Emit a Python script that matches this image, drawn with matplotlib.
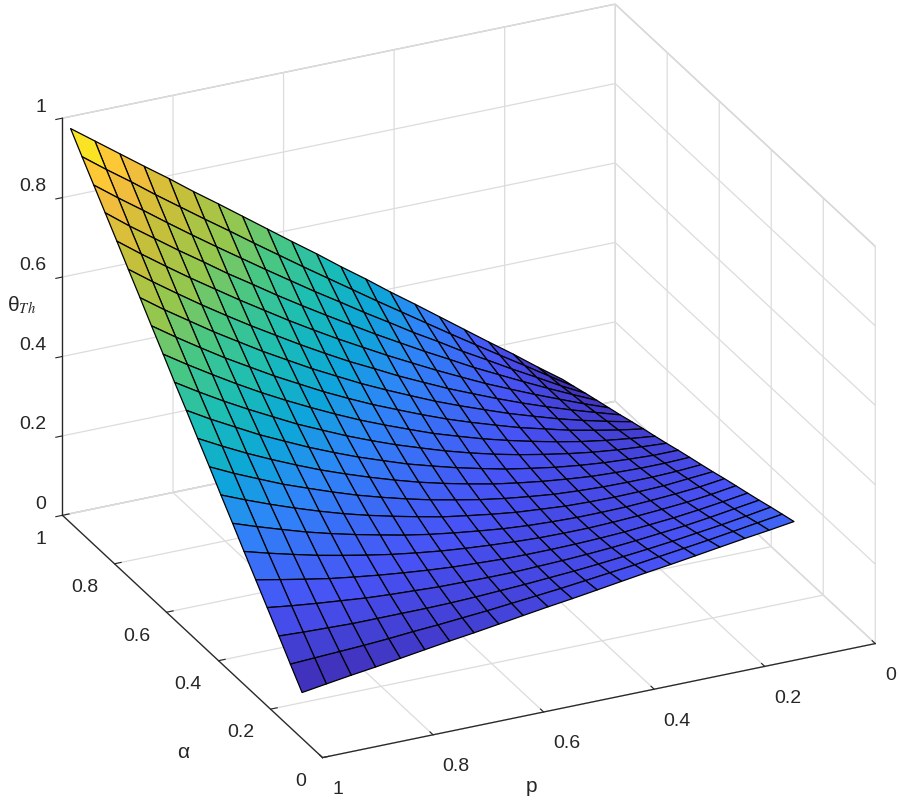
import numpy as np
import matplotlib
matplotlib.use('Agg')
import matplotlib.pyplot as plt
from matplotlib.colors import LinearSegmentedColormap

plt.rcParams['font.family'] = ['Liberation Sans', 'DejaVu Sans']
plt.rcParams['mathtext.fontset'] = 'stix'

p_values = [0.990, 0.946, 0.901, 0.857, 0.812, 0.768, 0.723, 0.679, 0.634, 0.590, 0.545,
            0.501, 0.456, 0.412, 0.367, 0.323, 0.278, 0.234, 0.189, 0.145, 0.100]
alpha_values = [0.100, 0.145, 0.189, 0.234, 0.278, 0.323, 0.367, 0.412, 0.456, 0.501, 0.545,
                0.590, 0.634, 0.679, 0.723, 0.768, 0.812, 0.857, 0.901, 0.946, 0.990]
# theta_Th, one row per alpha value
theta_th = [
    [.100, .109, .118, .126, .135, .144, .153, .161, .170, .179, .188, .196, .205, .214, .223, .231, .240, .249, .258, .266, .275],
    [.144, .147, .150, .153, .157, .162, .166, .171, .176, .182, .188, .194, .201, .208, .215, .223, .231, .239, .248, .257, .266],
    [.188, .185, .183, .181, .181, .181, .181, .182, .184, .187, .190, .194, .198, .203, .209, .215, .222, .230, .238, .247, .257],
    [.232, .224, .217, .211, .205, .201, .198, .195, .194, .193, .193, .195, .197, .200, .204, .209, .215, .221, .229, .238, .247],
    [.275, .263, .251, .240, .231, .223, .216, .210, .205, .202, .199, .198, .198, .199, .201, .204, .209, .214, .221, .229, .238],
    [.319, .302, .286, .271, .258, .246, .235, .226, .218, .212, .207, .203, .200, .199, .199, .201, .204, .208, .213, .220, .229],
    [.363, .342, .322, .303, .286, .271, .257, .244, .233, .224, .216, .209, .204, .201, .199, .199, .200, .203, .207, .212, .220],
    [.407, .382, .358, .336, .315, .296, .279, .264, .250, .237, .227, .218, .210, .205, .200, .198, .197, .198, .200, .205, .210],
    [.451, .422, .395, .369, .346, .324, .303, .285, .268, .253, .240, .228, .218, .210, .203, .199, .196, .195, .195, .197, .201],
    [.495, .463, .432, .404, .377, .352, .329, .308, .288, .270, .254, .240, .227, .217, .208, .201, .195, .192, .190, .190, .192],
    [.539, .504, .471, .439, .410, .382, .356, .332, .310, .289, .271, .254, .239, .225, .214, .204, .196, .190, .186, .183, .183],
    [.582, .545, .509, .476, .444, .413, .385, .358, .333, .310, .289, .269, .251, .235, .221, .209, .198, .189, .182, .177, .173],
    [.626, .587, .549, .513, .478, .446, .415, .386, .358, .333, .309, .286, .266, .247, .230, .215, .201, .189, .179, .171, .164],
    [.670, .629, .589, .551, .515, .480, .447, .415, .385, .357, .331, .306, .282, .261, .241, .222, .206, .190, .177, .165, .155],
    [.714, .671, .630, .590, .552, .515, .480, .446, .414, .383, .354, .327, .300, .276, .253, .231, .211, .192, .175, .160, .146],
    [.758, .714, .671, .630, .590, .552, .515, .479, .444, .411, .380, .349, .320, .292, .266, .241, .217, .195, .174, .155, .136],
    [.802, .757, .713, .671, .630, .590, .551, .513, .476, .441, .407, .374, .342, .311, .281, .252, .225, .199, .174, .150, .127],
    [.846, .800, .756, .713, .671, .629, .589, .549, .510, .473, .436, .400, .365, .331, .298, .265, .234, .204, .174, .146, .118],
    [.889, .844, .800, .756, .712, .670, .628, .587, .546, .506, .467, .428, .390, .352, .316, .279, .244, .209, .175, .141, .109],
    [.933, .888, .844, .799, .755, .712, .669, .626, .583, .541, .499, .458, .416, .376, .335, .295, .255, .216, .177, .138, .099],
    [.977, .933, .888, .844, .800, .755, .711, .667, .622, .578, .534, .489, .445, .400, .356, .312, .267, .223, .179, .134, .090],
]
tick_values = [0, 0.2, 0.4, 0.6, 0.8, 1]
tick_labels = ['0', '0.2', '0.4', '0.6', '0.8', '1']

parula = LinearSegmentedColormap.from_list('parula', [
    (0.00, (.2422, .1504, .6603)), (0.15, (.2810, .3228, .9579)),
    (0.29, (.1786, .5289, .9682)), (0.37, (.05, .65, .85)),
    (0.46, (.10, .74, .72)), (0.56, (.28, .78, .52)),
    (0.66, (.60, .78, .30)), (0.77, (.80, .75, .22)),
    (0.88, (.99, .74, .24)), (1.00, (.9769, .9839, .0805))])

fig = plt.figure(figsize=(8.99, 8.01), dpi=100)
ax = fig.add_axes([0.0095, 0.011, 1, 1], projection='3d', proj_type='ortho')
ax.view_init(elev=26.0, azim=-115.2)
ax.set_box_aspect((611, 611, 442), zoom=1.176)

P, A = np.meshgrid(p_values, alpha_values)
ax.plot_surface(P, A, np.array(theta_th), rstride=1, cstride=1, cmap=parula, vmin=0.09, vmax=0.977,
                edgecolor='black', linewidth=0.9, shade=False, antialiased=True)

ax.set_xlim(1, 0)
ax.set_ylim(0, 1)
ax.set_zlim(0, 1)
for axis in (ax.xaxis, ax.yaxis, ax.zaxis):
    axis.set_pane_color((1, 1, 1, 1))
    axis.pane.set_edgecolor('#c4c4c4')
    axis.line.set_color('#262626')
    axis.line.set_linewidth(0.9)
    axis._axinfo['grid'].update(color='#dcdcdc', linewidth=0.9)
    axis._axinfo['tick'].update(inward_factor=0.0, outward_factor=0.15)
    axis.set_ticks(tick_values)
    axis.set_ticklabels(tick_labels)
ax.tick_params(labelsize=14, labelcolor='#262626', color='#262626', pad=1)
ax.xaxis.set_tick_params(pad=3)
ax.zaxis.set_tick_params(pad=-2)
ax.zaxis.set_ticks_position('upper')
ax.zaxis._axinfo['tick'].update(inward_factor=0.15, outward_factor=0.0)
for label in ax.xaxis.get_ticklabels():
    label.set_ha('left')
for label in ax.yaxis.get_ticklabels():
    label.set_ha('right')
for label in ax.zaxis.get_ticklabels():
    label.set_ha('right')
    label.set_va('bottom')

fig.text(531 / 899, 1 - 786 / 801, 'p', fontsize=15, color='#262626', ha='center', va='center')
fig.text(183 / 899, 1 - 753 / 801, 'α', fontsize=15, color='#262626', ha='center', va='center')
fig.text(22 / 899, 1 - 305 / 801, r'θ$_{Th}$', fontsize=15, color='#262626', ha='center', va='center')

fig.savefig('out.png', dpi=100)
